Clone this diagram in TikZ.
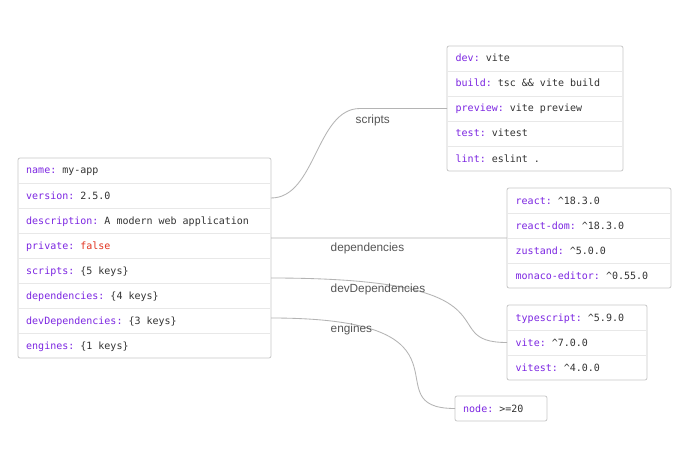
\documentclass[tikz,border=0pt]{standalone}
\usepackage{fontspec}
\setmainfont{Liberation Sans}
\newfontfamily\monof{DejaVu Sans Mono}
\usetikzlibrary{calc}
\definecolor{keyc}{RGB}{124,38,226}
\definecolor{valc}{RGB}{51,51,51}
\definecolor{falsec}{RGB}{226,50,30}
\definecolor{boxc}{RGB}{200,200,200}
\definecolor{sepc}{RGB}{232,232,232}
\definecolor{linkc}{RGB}{180,180,180}
\definecolor{lblc}{RGB}{85,85,85}
\newcommand\keyt[1]{\textcolor{keyc}{#1}}
\begin{document}
\frenchspacing
\begin{tikzpicture}[x=1pt,y=-1pt,
  box/.style={draw=boxc, line width=0.8pt, rounded corners=2pt, fill=white, inner sep=0, outer sep=0, anchor=north west},
  rowt/.style={anchor=base west, inner sep=0, font=\monof\frenchspacing\fontsize{10}{12}\selectfont, text=valc},
  sep/.style={draw=sepc, line width=0.8pt},
  link/.style={draw=linkc, line width=0.85pt},
  lbl/.style={anchor=base west, inner sep=0, font=\fontsize{11.8}{14}\selectfont, text=lblc}]
\useasboundingbox (0,0) rectangle (695,457);
\fill[white] (0,0) rectangle (695,457);

% boxes
\node[box, minimum width=253pt, minimum height=200pt] (main) at (18,158) {};
\node[box, minimum width=176pt, minimum height=125pt] (scripts) at (447,46) {};
\node[box, minimum width=164pt, minimum height=100pt] (deps) at (507,188) {};
\node[box, minimum width=140pt, minimum height=75pt] (devdeps) at (507,305) {};
\node[box, minimum width=92pt, minimum height=25pt] (engines) at (455,396) {};

% connectors
\coordinate (s1) at ($(main.north east)!0.2!(main.south east)$);
\coordinate (s2) at ($(main.north east)!0.4!(main.south east)$);
\coordinate (s3) at ($(main.north east)!0.6!(main.south east)$);
\coordinate (s4) at ($(main.north east)!0.8!(main.south east)$);
\coordinate (k1) at (360,108.5);
\draw[link] (s1) .. controls (316,198) and (316,108.5) .. (k1) -- (scripts.west);
\draw[link] (s2) -- (deps.west);
\draw[link] (s3) .. controls (530,278) and (431,342.5) .. (devdeps.west);
\draw[link] (s4) .. controls (490,318) and (369,408.5) .. (engines.west);

% separators
\foreach \i in {1,...,7} \draw[sep] ($(main.north west)+(0.8,25*\i)$) -- ($(main.north east)+(-0.8,25*\i)$);
\foreach \i in {1,...,4} \draw[sep] ($(scripts.north west)+(0.8,25*\i)$) -- ($(scripts.north east)+(-0.8,25*\i)$);
\foreach \i in {1,...,3} \draw[sep] ($(deps.north west)+(0.8,25*\i)$) -- ($(deps.north east)+(-0.8,25*\i)$);
\foreach \i in {1,...,2} \draw[sep] ($(devdeps.north west)+(0.8,25*\i)$) -- ($(devdeps.north east)+(-0.8,25*\i)$);

% main rows (baselines)
\node[rowt] (m1) at (26,174) {\keyt{name:} my-app};
\node[rowt] (m2) at (26,199) {\keyt{version:} 2.5.0};
\node[rowt] (m3) at (26,224) {\keyt{description:} A modern web application};
\node[rowt] (m4) at (26,249) {\keyt{private:} \textcolor{falsec}{false}};
\node[rowt] (m5) at (26,274) {\keyt{scripts:} \{5 keys\}};
\node[rowt] (m6) at (26,299) {\keyt{dependencies:} \{4 keys\}};
\node[rowt] (m7) at (26,324) {\keyt{devDependencies:} \{3 keys\}};
\node[rowt] (m8) at (26,349) {\keyt{engines:} \{1 keys\}};

% scripts rows
\node[rowt] (sc1) at (455.5,62) {\keyt{dev:} vite};
\node[rowt] (sc2) at (455.5,87) {\keyt{build:} tsc \&\& vite build};
\node[rowt] (sc3) at (455.5,112) {\keyt{preview:} vite preview};
\node[rowt] (sc4) at (455.5,137) {\keyt{test:} vitest};
\node[rowt] (sc5) at (455.5,162) {\keyt{lint:} eslint .};

% dependencies rows
\node[rowt] (d1) at (515.5,204) {\keyt{react:} \textasciicircum18.3.0};
\node[rowt] (d2) at (515.5,229) {\keyt{react-dom:} \textasciicircum18.3.0};
\node[rowt] (d3) at (515.5,254) {\keyt{zustand:} \textasciicircum5.0.0};
\node[rowt] (d4) at (515.5,279) {\keyt{monaco-editor:} \textasciicircum0.55.0};

% devDependencies rows
\node[rowt] (v1) at (515.5,321) {\keyt{typescript:} \textasciicircum5.9.0};
\node[rowt] (v2) at (515.5,346) {\keyt{vite:} \textasciicircum7.0.0};
\node[rowt] (v3) at (515.5,371) {\keyt{vitest:} \textasciicircum4.0.0};

% engines row
\node[rowt] (e1) at (463,412) {\keyt{node:} >=20};

% connector labels
\node[lbl] (l1) at (355.5,123.5) {scripts};
\node[lbl] (l2) at (330.5,251.5) {dependencies};
\node[lbl] (l3) at (330.5,292.5) {devDependencies};
\node[lbl] (l4) at (330.5,332.5) {engines};
\end{tikzpicture}
\end{document}
